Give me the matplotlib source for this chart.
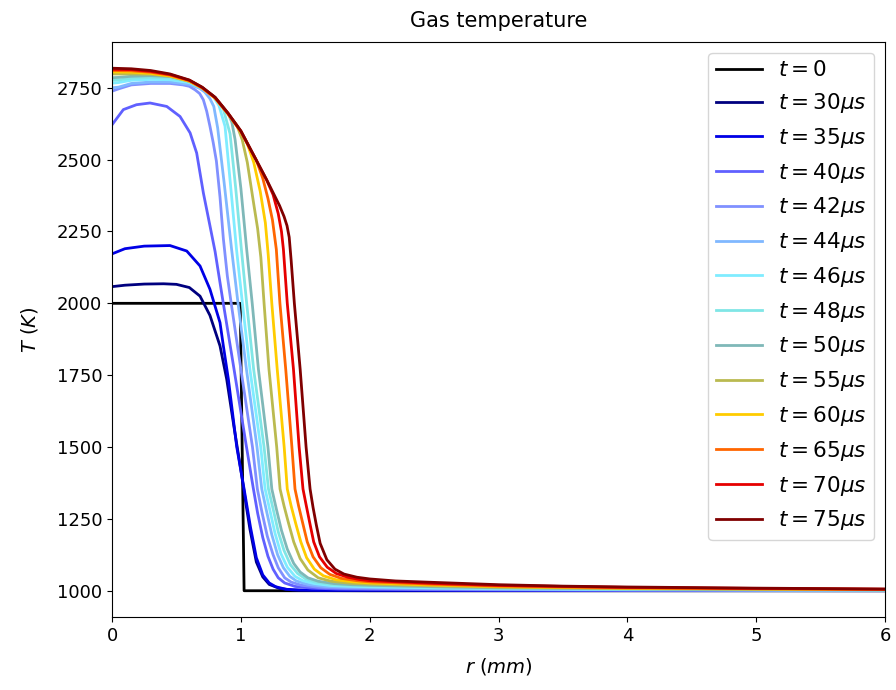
import matplotlib
matplotlib.use("Agg")
import matplotlib.pyplot as plt

# radial profiles of gas temperature, r in mm, T in K
r_t0 = [0.0, 0.995, 1.025, 6.0]
T_t0 = [2000, 2000, 1000, 1000]

r_t30 = [0.0, 0.1, 0.25, 0.4, 0.5, 0.6, 0.683, 0.76, 0.838, 0.89, 0.95, 1.0, 1.04,
         1.07, 1.12, 1.17, 1.22, 1.3, 1.4, 1.6, 2.0, 6.0]
T_t30 = [2058, 2063, 2067, 2068, 2066, 2055, 2025, 1958, 1852, 1736, 1560, 1420, 1300,
         1215, 1100, 1048, 1022, 1008, 1002.5, 1000.5, 1000, 1000]

r_t35 = [0.0, 0.1, 0.25, 0.45, 0.58, 0.683, 0.76, 0.838, 0.864, 0.903, 0.968, 1.025,
         1.075, 1.12, 1.17, 1.22, 1.27, 1.35, 1.45, 1.6, 2.0, 3.0, 6.0]
T_t35 = [2172, 2190, 2199, 2201, 2182, 2130, 2049, 1933, 1852, 1736, 1500, 1354,
         1220, 1115, 1055, 1027, 1014, 1005, 1002.5, 1001.8, 1001.6, 1000.8, 1000.2]

r_t40 = [0.0, 0.088, 0.19, 0.295, 0.425, 0.528, 0.606, 0.657, 0.709, 0.76, 0.8, 0.86,
         0.94, 1.04, 1.095, 1.13, 1.17, 1.21, 1.25, 1.29, 1.34, 1.42, 1.55, 1.75,
         2.0, 2.5, 3.0, 4.0, 5.0, 6.0]
T_t40 = [2621, 2674, 2691, 2697, 2685, 2650, 2593, 2523, 2384, 2270, 2180, 2010,
         1790, 1510, 1360, 1270, 1185, 1120, 1075, 1045, 1027, 1015, 1009, 1006,
         1004.8, 1003.5, 1002.5, 1001.6, 1001.1, 1000.7]

r_t42 = [0.0, 0.05, 0.15, 0.3, 0.45, 0.55, 0.6, 0.644, 0.68, 0.709, 0.735, 0.76, 0.785,
         0.81, 0.838, 0.864, 0.895, 0.925, 1.0, 1.09, 1.128, 1.165, 1.205, 1.25, 1.29,
         1.34, 1.39, 1.47, 1.6, 1.8, 2.0, 2.5, 3.0, 4.0, 5.0, 6.0]
T_t42 = [2738, 2746, 2760, 2765, 2765, 2760, 2755, 2743, 2730, 2708, 2668, 2616, 2560,
         2495, 2370, 2225, 2095, 2000, 1771, 1500, 1354, 1270, 1190, 1125, 1080,
         1045, 1030, 1019, 1012, 1009, 1008, 1005.8, 1004.2, 1002.6, 1001.8, 1001.2]

r_t44 = [0.0, 0.05, 0.15, 0.3, 0.45, 0.6, 0.68, 0.72, 0.76, 0.79, 0.82, 0.87, 0.928,
         0.978, 1.043, 1.125, 1.162, 1.2, 1.24, 1.285, 1.33, 1.38, 1.43, 1.52, 1.65,
         1.8, 2.0, 2.5, 3.0, 4.0, 5.0, 6.0]
T_t44 = [2750, 2752, 2765, 2770, 2770, 2762, 2748, 2735, 2712, 2685, 2610, 2420, 2188,
         2000, 1771, 1500, 1354, 1275, 1195, 1125, 1080, 1050, 1034, 1022, 1015,
         1012.5, 1011, 1008.1, 1005.9, 1003.6, 1002.5, 1001.7]

r_t46 = [0.0, 0.05, 0.15, 0.3, 0.45, 0.6, 0.7, 0.78, 0.83, 0.877, 0.92, 0.966, 1.012,
         1.07, 1.154, 1.188, 1.225, 1.265, 1.31, 1.36, 1.42, 1.48, 1.57, 1.7, 1.85,
         2.0, 2.5, 3.0, 4.0, 5.0, 6.0]
T_t46 = [2766, 2768, 2776, 2779, 2778, 2768, 2748, 2724, 2688, 2616, 2410, 2188, 2000,
         1771, 1500, 1354, 1280, 1200, 1130, 1082, 1050, 1035, 1025, 1018, 1015.5,
         1014, 1010, 1007.4, 1004.5, 1003.2, 1002.1]

r_t48 = [0.0, 0.05, 0.15, 0.3, 0.45, 0.6, 0.7, 0.8, 0.86, 0.916, 0.96, 1.004, 1.045,
         1.099, 1.18, 1.214, 1.25, 1.29, 1.335, 1.385, 1.44, 1.5, 1.58, 1.7, 1.85,
         2.0, 2.5, 3.0, 4.0, 5.0, 6.0]
T_t48 = [2776, 2777, 2783, 2786, 2784, 2772, 2750, 2716, 2682, 2590, 2400, 2188, 2000,
         1771, 1500, 1354, 1285, 1205, 1140, 1090, 1060, 1042, 1030, 1022, 1018.5,
         1016.8, 1012.2, 1008.8, 1005.5, 1003.8, 1002.5]

r_t50 = [0.0, 0.05, 0.15, 0.3, 0.45, 0.6, 0.7, 0.8, 0.9, 0.93, 0.955, 1.0, 1.045,
         1.088, 1.136, 1.21, 1.24, 1.275, 1.315, 1.36, 1.41, 1.46, 1.52, 1.6, 1.72,
         1.86, 2.0, 2.5, 3.0, 4.0, 5.0, 6.0]
T_t50 = [2785, 2786, 2790, 2792, 2789, 2775, 2751, 2716, 2661, 2630, 2570, 2400, 2188,
         2000, 1771, 1500, 1354, 1285, 1210, 1145, 1095, 1065, 1045, 1033, 1025,
         1021, 1019, 1014, 1010, 1006.2, 1004.3, 1002.9]

r_t55 = [0.0, 0.15, 0.3, 0.45, 0.6, 0.7, 0.8, 0.9, 0.97, 1.01, 1.05, 1.1, 1.13, 1.155,
         1.18, 1.218, 1.278, 1.304, 1.335, 1.37, 1.41, 1.46, 1.52, 1.6, 1.7, 1.85,
         2.0, 2.5, 3.0, 4.0, 5.0, 6.0]
T_t55 = [2798, 2798, 2797, 2790, 2772, 2749, 2714, 2660, 2618, 2570, 2490, 2345, 2260,
         2160, 2000, 1771, 1500, 1354, 1295, 1235, 1170, 1112, 1072, 1045, 1033,
         1026, 1023, 1016.8, 1012.2, 1007.5, 1005.2, 1003.5]

r_t60 = [0.0, 0.15, 0.3, 0.45, 0.6, 0.7, 0.8, 0.9, 1.0, 1.05, 1.1, 1.15, 1.19, 1.212,
         1.24, 1.282, 1.336, 1.36, 1.39, 1.425, 1.465, 1.51, 1.57, 1.64, 1.74, 1.87,
         2.0, 2.5, 3.0, 4.0, 5.0, 6.0]
T_t60 = [2805, 2804, 2800, 2791, 2773, 2749, 2714, 2659, 2597, 2555, 2490, 2390, 2280,
         2170, 2000, 1771, 1500, 1354, 1295, 1235, 1170, 1115, 1075, 1052, 1038,
         1031, 1027, 1019.7, 1014.3, 1008.8, 1006.1, 1004.1]

r_t65 = [0.0, 0.15, 0.3, 0.45, 0.6, 0.7, 0.8, 0.9, 1.0, 1.08, 1.12, 1.17, 1.21, 1.245,
         1.275, 1.303, 1.348, 1.396, 1.42, 1.448, 1.48, 1.515, 1.56, 1.62, 1.69, 1.78,
         1.9, 2.0, 2.5, 3.0, 4.0, 5.0, 6.0]
T_t65 = [2810, 2809, 2804, 2794, 2775, 2750, 2715, 2660, 2598, 2530, 2498, 2435, 2365,
         2290, 2188, 2000, 1771, 1500, 1354, 1295, 1235, 1170, 1118, 1080, 1057,
         1043, 1035, 1031, 1022.6, 1016.4, 1010, 1007, 1004.7]

r_t70 = [0.0, 0.15, 0.3, 0.45, 0.6, 0.7, 0.8, 0.9, 1.0, 1.1, 1.2, 1.25, 1.29, 1.315,
         1.33, 1.36, 1.408, 1.452, 1.482, 1.508, 1.535, 1.565, 1.61, 1.67, 1.74, 1.83,
         1.92, 2.0, 2.5, 3.0, 4.0, 5.0, 6.0]
T_t70 = [2814, 2813, 2807, 2796, 2776, 2751, 2716, 2661, 2599, 2514, 2429, 2378, 2312,
         2250, 2188, 2000, 1771, 1500, 1354, 1295, 1235, 1170, 1118, 1082, 1060,
         1047, 1039, 1035, 1025.5, 1018.5, 1011.5, 1008, 1005.3]

r_t75 = [0.0, 0.15, 0.3, 0.45, 0.6, 0.7, 0.8, 0.9, 1.0, 1.1, 1.2, 1.3, 1.335, 1.358,
         1.375, 1.39, 1.415, 1.46, 1.506, 1.537, 1.56, 1.585, 1.615, 1.667, 1.73, 1.8,
         1.9, 2.0, 2.2, 2.5, 3.0, 3.5, 4.0, 5.0, 6.0]
T_t75 = [2818, 2816, 2810, 2798, 2777, 2752, 2717, 2662, 2600, 2515, 2430, 2340, 2302,
         2270, 2230, 2150, 2000, 1771, 1500, 1354, 1290, 1230, 1165, 1108, 1075, 1058,
         1047, 1041, 1034, 1029, 1021, 1016, 1013, 1009, 1006]

labels = [r"$t=0$", r"$t=30\mu s$", r"$t=35\mu s$", r"$t=40\mu s$", r"$t=42\mu s$",
          r"$t=44\mu s$", r"$t=46\mu s$", r"$t=48\mu s$", r"$t=50\mu s$",
          r"$t=55\mu s$", r"$t=60\mu s$", r"$t=65\mu s$", r"$t=70\mu s$",
          r"$t=75\mu s$"]

profiles = [(r_t0, T_t0), (r_t30, T_t30), (r_t35, T_t35), (r_t40, T_t40),
            (r_t42, T_t42), (r_t44, T_t44), (r_t46, T_t46), (r_t48, T_t48),
            (r_t50, T_t50), (r_t55, T_t55), (r_t60, T_t60), (r_t65, T_t65),
            (r_t70, T_t70), (r_t75, T_t75)]

colors = ["#000000", "#00007f", "#0000e6", "#6060ff", "#8090ff", "#80b8ff",
          "#80ecff", "#80e6e6", "#7fb8b8", "#baba50", "#ffcc00", "#ff6600",
          "#e60000", "#800000"]

plt.rcParams["font.size"] = 13

fig = plt.figure(figsize=(8.96, 6.9), dpi=100)
ax = fig.add_axes([0.125, 0.106, 0.863, 0.833])

for (r, T), c, lab in zip(profiles, colors, labels):
    ax.plot(r, T, color=c, linewidth=2.0, label=lab)

ax.set_xlim(0, 6)
ax.set_title("Gas temperature", fontsize=15, pad=11)
ax.set_xlabel(r"$r\ (mm)$", fontsize=14, labelpad=8)
ax.set_ylabel(r"$T\ (K)$", fontsize=14, labelpad=12)
ax.legend(loc="upper right", fontsize=15.5, handlelength=2.15,
          handletextpad=0.75, labelspacing=0.5, borderpad=0.35)

fig.savefig("out.png", dpi=100)
